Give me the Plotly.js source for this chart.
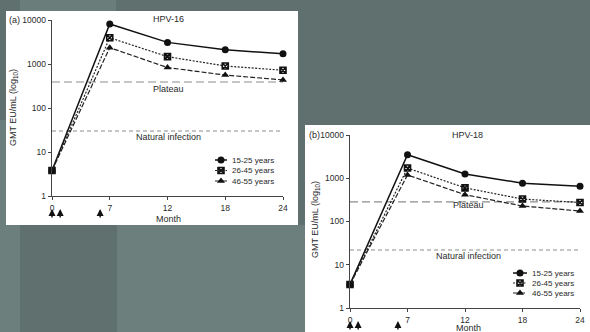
<!DOCTYPE html>
<html><head><meta charset="utf-8">
<script src="https://cdn.plot.ly/plotly-3.0.1.min.js"></script>
<style>html,body{margin:0;padding:0;background:#5f706e;overflow:hidden}#chart{width:590px;height:332px}</style>
</head><body><div id="chart"></div>
<script>
// ---- data ----
const monthLabels = ['0', '7', '12', '18', '24'];
const monthPos = [0, 6, 12, 18, 24];
const ageGroups = ['15-25 years', '26-45 years', '46-55 years'];
const hpv16_15_25 = [3.8, 8100, 3100, 2100, 1700];
const hpv16_26_45 = [3.8, 3950, 1470, 900, 720];
const hpv16_46_55 = [3.8, 2350, 830, 560, 435];
const hpv18_15_25 = [3.5, 3500, 1250, 770, 650];
const hpv18_26_45 = [3.5, 1720, 600, 330, 275];
const hpv18_46_55 = [3.5, 1190, 417, 228, 175];
const hpv16Ref = [390, 30];   // plateau, natural infection
const hpv18Ref = [285, 22];
const refLabels = ['Plateau', 'Natural infection'];
const dosePos = [0, 0.85, 5];
const yTickVals = [1, 10, 100, 1000, 10000];
const yTickText = ['1', '10', '100', '1000', '10000'];

// ---- helpers ----
const W = 590, H = 332;
const px = v => v / W, py = v => 1 - v / H;
const FONT = 'Liberation Sans, Arial, sans-serif';
const TXT = '#2a2a2a';

const styles = [
  {line: {color: '#111', width: 1.5, dash: 'solid'}, marker: {symbol: 'circle', size: 7, color: '#111'}},
  {line: {color: '#222', width: 1.2, dash: '2px,1.5px'}, marker: {symbol: 'square-x-open', size: 6, color: '#111', line: {width: 1.6, color: '#111'}}},
  {line: {color: '#222', width: 1.2, dash: '5px,2px'}, marker: {symbol: 'triangle-up', size: 7, color: '#111'}}
];
const refStyles = [
  {color: '#8c8c8c', width: 1.2, dash: '8px,4px'},
  {color: '#8c8c8c', width: 1.1, dash: '4px,3px'}
];

const traces = [];
const panels = [
  {xa: 'x', ya: 'y', series: [hpv16_15_25, hpv16_26_45, hpv16_46_55], ref: hpv16Ref},
  {xa: 'x2', ya: 'y2', series: [hpv18_15_25, hpv18_26_45, hpv18_46_55], ref: hpv18Ref}
];
panels.forEach(p => {
  p.ref.forEach((v, i) => traces.push({
    x: [monthPos[0], monthPos[monthPos.length - 1]], y: [v, v], xaxis: p.xa, yaxis: p.ya,
    mode: 'lines', line: refStyles[i], hoverinfo: 'skip', showlegend: false
  }));
  p.series.forEach((s, i) => traces.push({
    x: monthPos, y: s, xaxis: p.xa, yaxis: p.ya, name: ageGroups[i],
    mode: 'lines+markers', line: styles[i].line, marker: styles[i].marker,
    cliponaxis: false, showlegend: false
  }));
});
// legend samples on small helper axes
[['x3', 'y3'], ['x4', 'y4']].forEach(([xa, ya]) => {
  ageGroups.forEach((g, i) => {
    traces.push({x: [0, 1], y: [i, i], xaxis: xa, yaxis: ya, mode: 'lines', line: styles[i].line, showlegend: false, hoverinfo: 'skip', cliponaxis: false});
    traces.push({x: [0.5], y: [i], xaxis: xa, yaxis: ya, mode: 'markers', marker: styles[i].marker, showlegend: false, hoverinfo: 'skip', cliponaxis: false});
  });
});

const xAx = (l, r, anchor) => ({
  domain: [px(l), px(r)], range: [0, 24], anchor: anchor, tickvals: monthPos, ticktext: monthLabels,
  ticks: 'outside', ticklen: 3, tickwidth: 1, tickcolor: '#444', showline: true, linecolor: '#444', linewidth: 1.3,
  showgrid: false, zeroline: false, tickfont: {family: FONT, size: 8.5, color: TXT}, fixedrange: true
});
const yAx = (b, t, anchor) => ({
  type: 'log', domain: [py(b), py(t)], range: [0, 4], anchor: anchor, tickvals: yTickVals, ticktext: yTickText,
  ticks: 'outside', ticklen: 3, tickwidth: 1, tickcolor: '#444', showline: true, linecolor: '#444', linewidth: 1.3,
  showgrid: false, zeroline: false, tickfont: {family: FONT, size: 8.5, color: TXT}, fixedrange: true
});
const hidden = (dom, range, anchor) => ({domain: dom, range: range, anchor: anchor, visible: false, showgrid: false, zeroline: false, fixedrange: true});

const ann = [];
const txt = (text, x, y, opts) => ann.push(Object.assign({text: text, x: px(x), y: py(y), xref: 'paper', yref: 'paper', showarrow: false,
  font: {family: FONT, size: 9, color: TXT}, xanchor: 'center', yanchor: 'middle'}, opts || {}));

// panel a texts
txt('(a)', 14, 20);
txt('HPV-16', 168, 19);
txt(refLabels[0], 168, 89);
txt(refLabels[1], 168, 137);
txt('Month', 168, 219);
txt('GMT EU/mL (log<sub>10</sub>)', 13, 108, {textangle: -90});
// panel b texts
txt('(b)', 314, 135);
txt('HPV-18', 467, 135);
txt(refLabels[0], 468, 205);
txt(refLabels[1], 468, 256);
txt('Month', 468, 328);
txt('GMT EU/mL (log<sub>10</sub>)', 315, 220, {textangle: -90});
// legend labels
[['x3', 'y3'], ['x4', 'y4']].forEach(([xa, ya]) => ageGroups.forEach((g, i) => ann.push({
  text: g, x: 1, y: i, xref: xa, yref: ya, xanchor: 'left', yanchor: 'middle', xshift: 3, showarrow: false,
  font: {family: FONT, size: 8, color: TXT}
})));
// dose arrows
[['x', 209], ['x2', 321]].forEach(([xa, tip]) => dosePos.forEach(d => ann.push({
  text: '', x: d, y: py(tip), xref: xa, yref: 'paper', showarrow: true, ax: 0, ay: 10,
  arrowhead: 2, arrowsize: 1, arrowwidth: 1.4, arrowcolor: '#111'
})));

const rect = (x0, y0, x1, y1, c) => ({type: 'rect', xref: 'paper', yref: 'paper', x0: px(x0), x1: px(x1), y0: py(y1), y1: py(y0),
  fillcolor: c, line: {width: 0}, layer: 'below'});

const layout = {
  width: W, height: H, margin: {l: 0, r: 0, t: 0, b: 0},
  paper_bgcolor: '#5f706e', plot_bgcolor: 'rgba(0,0,0,0)', showlegend: false,
  font: {family: FONT, color: TXT},
  xaxis: xAx(52, 283, 'y'), yaxis: yAx(196, 20, 'x'),
  xaxis2: xAx(350, 580, 'y2'), yaxis2: yAx(308, 135, 'x2'),
  xaxis3: hidden([px(215), px(227)], [0, 1], 'y3'), yaxis3: hidden([py(186.25), py(154.75)], [2.5, -0.5], 'x3'),
  xaxis4: hidden([px(513), px(527)], [0, 1], 'y4'), yaxis4: hidden([py(298), py(268)], [2.5, -0.5], 'x4'),
  shapes: [
    rect(20, 0, 116, 11, '#6b7d7a'),
    rect(0, 120, 20, 332, '#6d7f7c'),
    rect(117, 225, 305, 332, '#6d7f7c'),
    rect(6, 11, 298, 225, '#ffffff'),
    rect(305, 125, 590, 332, '#ffffff')
  ],
  annotations: ann
};
Plotly.newPlot('chart', traces, layout, {displayModeBar: false, staticPlot: true});
</script></body></html>
